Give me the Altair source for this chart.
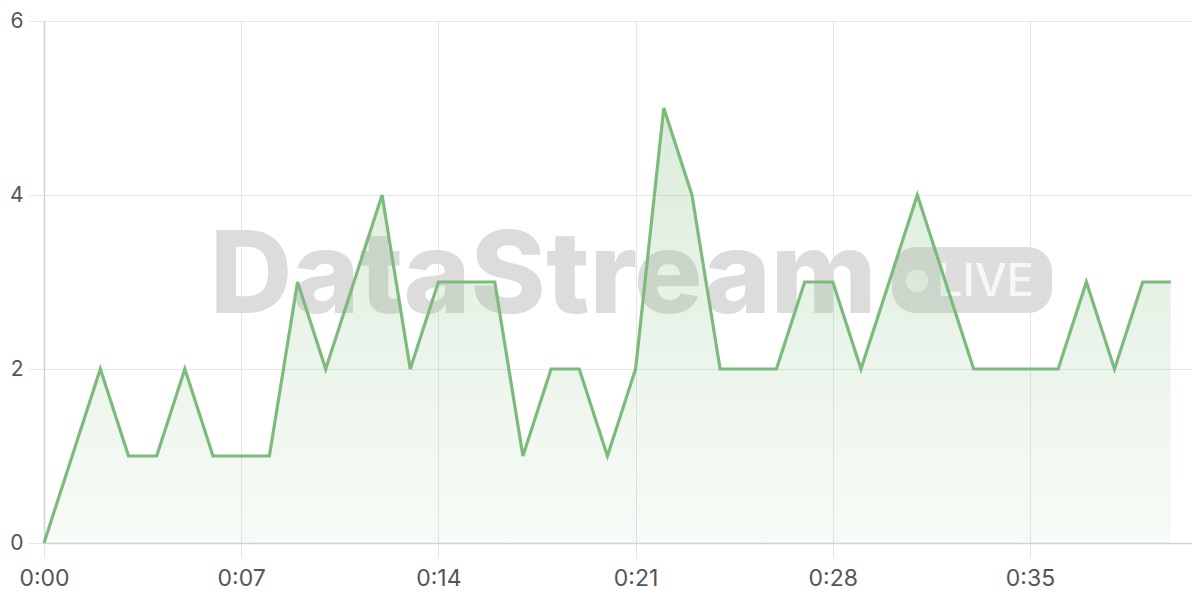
import altair as alt
import pandas as pd

seconds = list(range(0, 41))
counts = [0, 1, 2, 1, 1, 2, 1, 1, 1, 3, 2, 3, 4, 2, 3, 3, 3, 1, 2, 2, 1,
          2, 5, 4, 2, 2, 2, 3, 3, 2, 3, 4, 3, 2, 2, 2, 2, 3, 2, 3, 3]
x_ticks = [0, 7, 14, 21, 28, 35]
y_ticks = [0, 2, 4, 6]

df = pd.DataFrame({"t": seconds, "v": counts})
dummy = pd.DataFrame({"a": [0]})

W, H = 1148, 522
GREEN = "#7dbb7d"
FONT = "Inter"
GRID = "#e6e6e6"

x_enc = alt.X("t:Q", scale=alt.Scale(domain=[0, 40.75], nice=False),
              axis=alt.Axis(values=x_ticks, title=None,
                            labelExpr="floor(datum.value/60) + ':' + (datum.value % 60 < 10 ? '0' : '') + (datum.value % 60)",
                            grid=True, gridColor=GRID, tickColor=GRID,
                            tickSize=15, domainColor="#d2d2d2", domainWidth=1.5,
                            labelFontSize=23, labelColor="#555555", labelFont=FONT,
                            labelFlush=False, labelPadding=9))
y_enc = alt.Y("v:Q", scale=alt.Scale(domain=[0, 6], nice=False),
              axis=alt.Axis(values=y_ticks, title=None, grid=True,
                            gridColor=GRID, tickColor=GRID, tickSize=15,
                            domainColor="#d2d2d2", domainWidth=1.5,
                            labelFontSize=21, labelColor="#555555", labelFont=FONT,
                            labelFlush=False, labelPadding=6))

wm_text = alt.Chart(dummy).mark_text(
    text="DataStream", font=FONT, fontSize=114, fontWeight=800,
    color="#dcdcdc", align="left", baseline="alphabetic"
).encode(x=alt.value(166), y=alt.value(292))

badge = alt.Chart(dummy).mark_rect(color="#dddddd", cornerRadius=24).encode(
    x=alt.value(848), x2=alt.value(1008), y=alt.value(226), y2=alt.value(292))

dot = alt.Chart(dummy).mark_point(filled=True, color="#f2f2f2", opacity=1, size=520).encode(
    x=alt.value(873), y=alt.value(260))

live = alt.Chart(dummy).mark_text(
    text="LIVE", font=FONT, fontSize=45, fontWeight=500, color="#f7f7f7",
    align="left", baseline="alphabetic"
).encode(x=alt.value(893), y=alt.value(275))

area = alt.Chart(df).mark_area(
    color=alt.Gradient(gradient="linear",
                       stops=[alt.GradientStop(color="rgba(125,187,125,0.28)", offset=0),
                              alt.GradientStop(color="rgba(125,187,125,0.06)", offset=1)],
                       x1=1, x2=1, y1=0, y2=1)
).encode(x=x_enc, y=y_enc)

line = alt.Chart(df).mark_line(color=GREEN, strokeWidth=3.2, strokeJoin="miter").encode(
    x=x_enc, y=y_enc)

chart = alt.layer(wm_text, badge, dot, live, area, line).properties(
    width=W, height=H,
    autosize=alt.AutoSizeParams(type="none"),
    padding={"left": 36, "top": 13, "right": 0, "bottom": 50},
).configure_view(stroke=None).configure(background="white")

chart.save("out.html", embed_options={"renderer": "svg", "actions": False})
